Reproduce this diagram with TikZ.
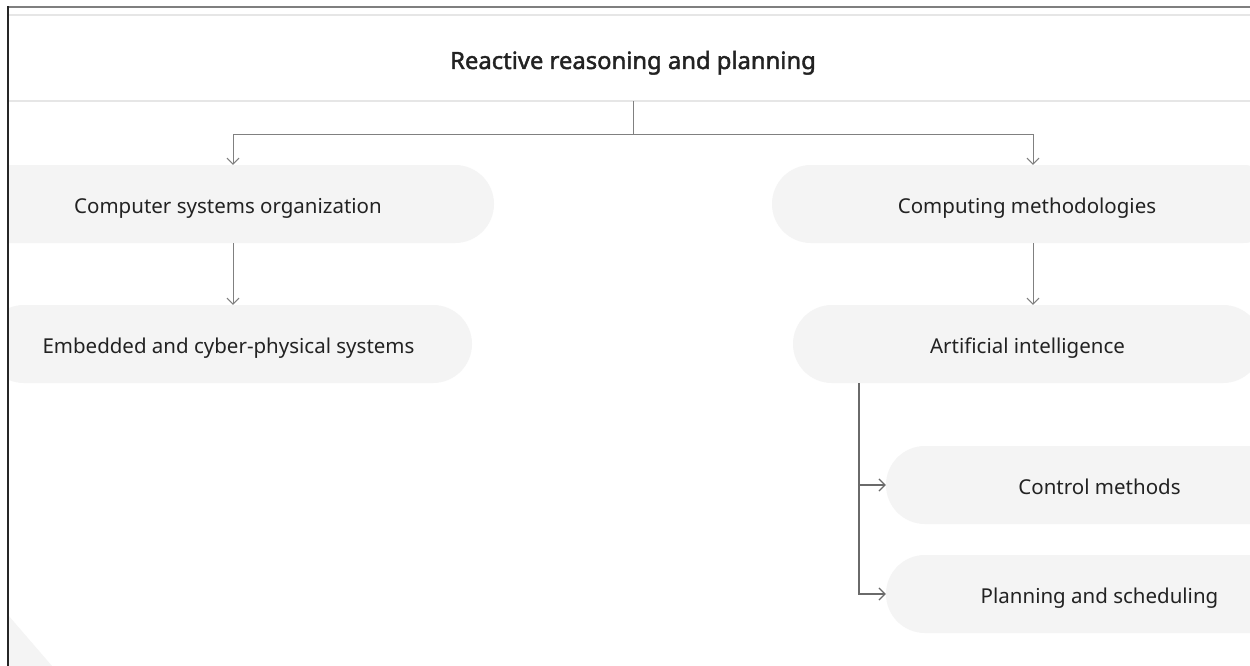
\documentclass[tikz,border=0pt]{standalone}
\usepackage{fontspec}
\setmainfont{Noto Sans}
\newfontfamily\titlefont[FakeBold=1.8]{Noto Sans}
\usetikzlibrary{arrows.meta}
\definecolor{boxfill}{HTML}{F4F4F4}
\definecolor{textcol}{HTML}{222222}
\definecolor{conncol}{HTML}{808080}
\definecolor{branchcol}{HTML}{6A6A6A}
\definecolor{sepcol}{HTML}{E6E6E6}
\definecolor{topcol}{HTML}{7F7F7F}
\definecolor{leftcol}{HTML}{262626}
\tikzset{
  box/.style={rectangle, rounded corners=39pt, fill=boxfill, minimum height=78pt,
    inner sep=0pt, text=textcol, text height=20pt, text depth=1.5pt,
    font=\fontsize{20.5}{24}\selectfont},
  conn/.style={draw=conncol, line width=1pt, -{Straight Barb[length=6pt,width=12pt]}},
  branch/.style={draw=branchcol, line width=2pt, -{Straight Barb[length=6pt,width=12pt,line width=1.2pt]}},
}
\begin{document}
\begin{tikzpicture}[x=1pt,y=-1pt]
\useasboundingbox (0,0) rectangle (1250,666);
\fill[white] (0,0) rectangle (1250,666);
\draw[sepcol, line width=1.5pt] (8,15) -- (1250,15);
\draw[sepcol, line width=1.5pt] (8,101) -- (1250,101);
\node[inner sep=0pt, minimum height=86pt, text=textcol, text height=23pt, text depth=1pt,
  font=\titlefont\fontsize{23.8}{28}\selectfont] (title) at (633,58) {Reactive reasoning and planning};
\begin{scope}
\clip (8,0) rectangle (1250,666);
\node[box, minimum width=532pt] (cso) at (228,204) {Computer systems organization};
\node[box, minimum width=487pt] (ecps) at (228.5,344) {Embedded and cyber-physical systems};
\node[box, minimum width=510pt] (cm) at (1027,204) {Computing methodologies};
\node[box, minimum width=469pt] (ai) at (1027.5,344) {Artificial intelligence};
\node[box, minimum width=427pt] (ctl) at (1099.5,485) {Control methods};
\node[box, minimum width=427pt] (pas) at (1099.5,594) {Planning and scheduling};
\fill[boxfill] (8,615) -- (8,666) -- (52,666) -- cycle;
\end{scope}
\draw[conn] (title.south) -- ++(0,33) -| ([xshift=5pt]cso.north);
\draw[conn] (title.south) -- ++(0,33) -| ([xshift=6pt]cm.north);
\draw[conn] ([xshift=5pt]cso.south) -- ([xshift=5pt]cso.south |- ecps.north);
\draw[conn] ([xshift=6pt]cm.south) -- ([xshift=6pt]cm.south |- ai.north);
\coordinate (b) at ([xshift=-168.5pt]ai.south);
\draw[branch] (b) |- (ctl.west);
\draw[branch] (b) |- (pas.west);
\draw[topcol, line width=2pt] (7,7.5) -- (1250,7.5);
\draw[leftcol, line width=2pt] (7.5,6.5) -- (7.5,666);
\end{tikzpicture}
\end{document}
